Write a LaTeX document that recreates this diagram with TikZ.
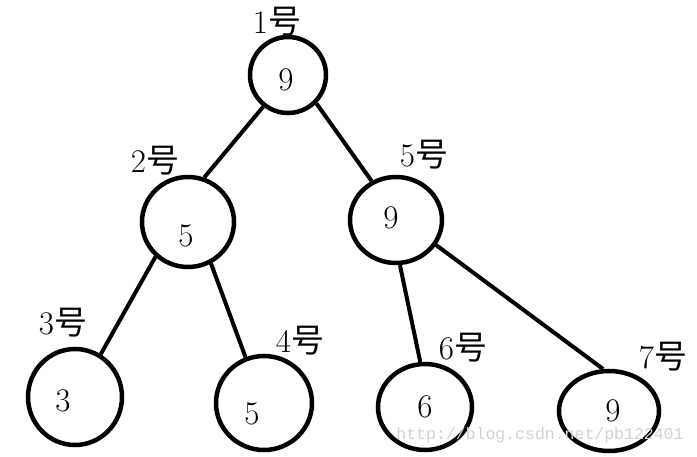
\documentclass[tikz,border=0pt]{standalone}
\usepackage{fontspec}
\newfontfamily\cjk{Noto Sans CJK SC}
\newfontfamily\wmfont{Liberation Mono}
\usetikzlibrary{shapes.geometric}

\begin{document}
\begin{tikzpicture}[x=1pt,y=-1pt,
    heapnode/.style={ellipse,draw,line width=4.5pt,inner sep=0pt},
    val/.style={font=\fontsize{33}{33}\selectfont},
    numlbl/.style={font=\fontsize{33}{33}\selectfont},
    edge/.style={line width=4pt}]
      \useasboundingbox (0,0) rectangle (697,457);
      % heap nodes
      \node[heapnode,minimum width=76pt,minimum height=76pt,label={[val,xshift=-2pt,yshift=-5pt]center:9}] (n1) at (288,75) {};
      \node[heapnode,minimum width=92pt,minimum height=90pt,label={[val,xshift=-2pt,yshift=-14pt]center:5}] (n2) at (188,222) {};
      \node[heapnode,minimum width=92pt,minimum height=86pt,label={[val,xshift=-5pt,yshift=2pt]center:9}] (n5) at (396,220) {};
      \node[heapnode,minimum width=94pt,minimum height=96pt,label={[val,xshift=-12pt,yshift=-4pt]center:3}] (n3) at (75,397) {};
      \node[heapnode,minimum width=96pt,minimum height=94pt,label={[val,xshift=-12pt,yshift=-11pt]center:5}] (n4) at (264,403) {};
      \node[heapnode,minimum width=94pt,minimum height=86pt,label={[val]center:6}] (n6) at (425,407) {};
      \node[heapnode,minimum width=100pt,minimum height=80pt,label={[val,xshift=4pt]center:9}] (n7) at (609,411) {};
      % edges
      \draw[edge] (n1.232) -- (n2.70);
      \draw[edge] (n1.315) -- (n5.122);
      \draw[edge] (n2.227) -- (n3.59);
      \draw[edge] (n2.299) -- (n4.112);
      \draw[edge] (n5.275) -- (n6.96);
      \draw[edge] (n5.328) -- (n7.98);
      % numbers
      \node[numlbl] (l1) at (277,22) {1{\cjk 号}};
      \node[numlbl] (l2) at (155,161) {2{\cjk 号}};
      \node[numlbl] (l5) at (424,155) {5{\cjk 号}};
      \node[numlbl] (l3) at (63,323) {3{\cjk 号}};
      \node[numlbl] (l4) at (300,341) {4{\cjk 号}};
      \node[numlbl] (l6) at (463,348) {6{\cjk 号}};
      \node[numlbl] (l7) at (663,357) {7{\cjk 号}};
      % watermark
      \node[font=\wmfont\fontsize{16.5}{16.5}\selectfont,text=gray!35,inner sep=0pt] (wm) at (540,435) {http://blog.csdn.net/pb122401};
    \end{tikzpicture}
\end{document}
